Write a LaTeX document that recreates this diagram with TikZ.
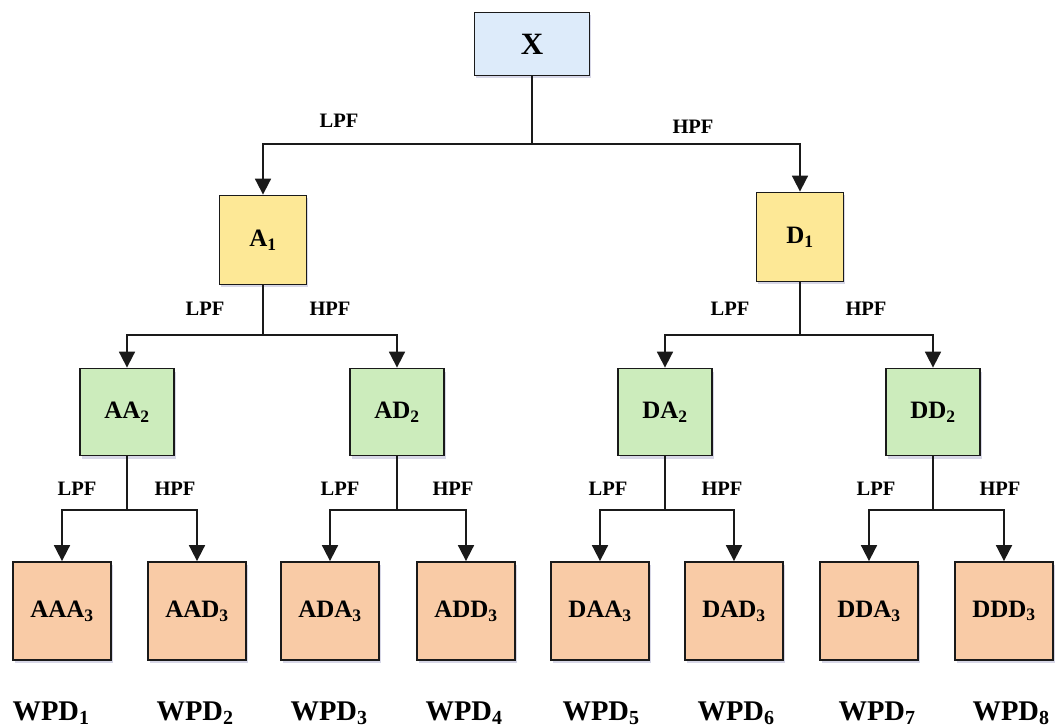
\documentclass[tikz,border=0pt]{standalone}
\usepackage{fontspec}
\setmainfont{Liberation Serif}
\usetikzlibrary{arrows.meta,shadows}
\definecolor{boxblue}{HTML}{DDEBFA}
\definecolor{boxyellow}{HTML}{FDE896}
\definecolor{boxgreen}{HTML}{CCECBC}
\definecolor{boxorange}{HTML}{F9CBA6}
\definecolor{edge}{HTML}{1A1A1A}
\begin{document}
\begin{tikzpicture}[x=1pt,y=-1pt,
  box/.style={draw=edge, line width=1.8pt, fill=#1, inner sep=0pt,
    font=\bfseries\fontsize{25}{27}\selectfont,
    drop shadow={shadow xshift=1.5pt, shadow yshift=-3pt, fill=blue!25!gray, opacity=0.25}},
  lvlzero/.style={box=boxblue, minimum width=115pt, minimum height=63pt,
    font=\bfseries\fontsize{31}{33}\selectfont},
  lvlone/.style={box=boxyellow, minimum width=87pt, minimum height=89pt},
  lvltwo/.style={box=boxgreen, minimum width=94pt, minimum height=87pt},
  lvlthree/.style={box=boxorange, minimum width=98pt, minimum height=98pt},
  conn/.style={draw=edge, line width=1.8pt},
  arr/.style={conn, -{Triangle[length=16pt,width=16pt]}},
  flt/.style={font=\bfseries\fontsize{20.5}{22}\selectfont, inner sep=0pt},
  wpd/.style={font=\bfseries\fontsize{28.5}{30}\selectfont, inner sep=0pt, anchor=base}
]
\useasboundingbox (0,0) rectangle (1055,727);

% decomposition tree
\node[lvlzero] (x) at (532,44) {X};

\node[lvlone] (a1) at (263,240) {A\textsubscript{1}};
\node[lvlone] (d1) at (800,237) {D\textsubscript{1}};

\node[lvltwo] (aa2) at (127,412) {AA\textsubscript{2}};
\node[lvltwo] (ad2) at (397,412) {AD\textsubscript{2}};
\node[lvltwo] (da2) at (665,412) {DA\textsubscript{2}};
\node[lvltwo] (dd2) at (933,412) {DD\textsubscript{2}};

\node[lvlthree] (aaa3) at (62,611)  {AAA\textsubscript{3}};
\node[lvlthree] (aad3) at (197,611) {AAD\textsubscript{3}};
\node[lvlthree] (ada3) at (330,611) {ADA\textsubscript{3}};
\node[lvlthree] (add3) at (466,611) {ADD\textsubscript{3}};
\node[lvlthree] (daa3) at (600,611) {DAA\textsubscript{3}};
\node[lvlthree] (dad3) at (734,611) {DAD\textsubscript{3}};
\node[lvlthree] (dda3) at (869,611) {DDA\textsubscript{3}};
\node[lvlthree] (ddd3) at (1004,611) {DDD\textsubscript{3}};

% branch points
\coordinate (bx)   at (532,144);
\coordinate (ba1)  at (263,335);
\coordinate (bd1)  at (800,335);
\coordinate (baa2) at (127,510);
\coordinate (bad2) at (397,510);
\coordinate (bda2) at (665,510);
\coordinate (bdd2) at (933,510);

% connectors
\draw[conn] (x.south) -- (bx);
\draw[arr] (bx) -| (a1.north);
\draw[arr] (bx) -| (d1.north);

\draw[conn] (a1.south) -- (ba1);
\draw[arr] (ba1) -| (aa2.north);
\draw[arr] (ba1) -| (ad2.north);
\draw[conn] (d1.south) -- (bd1);
\draw[arr] (bd1) -| (da2.north);
\draw[arr] (bd1) -| (dd2.north);

\draw[conn] (aa2.south) -- (baa2);
\draw[arr] (baa2) -| (aaa3.north);
\draw[arr] (baa2) -| (aad3.north);
\draw[conn] (ad2.south) -- (bad2);
\draw[arr] (bad2) -| (ada3.north);
\draw[arr] (bad2) -| (add3.north);
\draw[conn] (da2.south) -- (bda2);
\draw[arr] (bda2) -| (daa3.north);
\draw[arr] (bda2) -| (dad3.north);
\draw[conn] (dd2.south) -- (bdd2);
\draw[arr] (bdd2) -| (dda3.north);
\draw[arr] (bdd2) -| (ddd3.north);

% filter labels
\node[flt] (l0) at (339,121) {LPF};
\node[flt] (h0) at (693,127) {HPF};
\node[flt] (l1) at (205,309) {LPF};
\node[flt] (h1) at (330,309) {HPF};
\node[flt] (l2) at (730,309) {LPF};
\node[flt] (h2) at (866,309) {HPF};
\node[flt] (l3) at (77,489)  {LPF};
\node[flt] (h3) at (175,489) {HPF};
\node[flt] (l4) at (340,489) {LPF};
\node[flt] (h4) at (453,489) {HPF};
\node[flt] (l5) at (608,489) {LPF};
\node[flt] (h5) at (722,489) {HPF};
\node[flt] (l6) at (876,489) {LPF};
\node[flt] (h6) at (1000,489) {HPF};

% packet names
\node[wpd] (w1) at (51,720)   {WPD\textsubscript{1}};
\node[wpd] (w2) at (195,720)  {WPD\textsubscript{2}};
\node[wpd] (w3) at (329,720)  {WPD\textsubscript{3}};
\node[wpd] (w4) at (464,720)  {WPD\textsubscript{4}};
\node[wpd] (w5) at (601,720)  {WPD\textsubscript{5}};
\node[wpd] (w6) at (736,720)  {WPD\textsubscript{6}};
\node[wpd] (w7) at (877,720)  {WPD\textsubscript{7}};
\node[wpd] (w8) at (1011,720) {WPD\textsubscript{8}};
\end{tikzpicture}
\end{document}
